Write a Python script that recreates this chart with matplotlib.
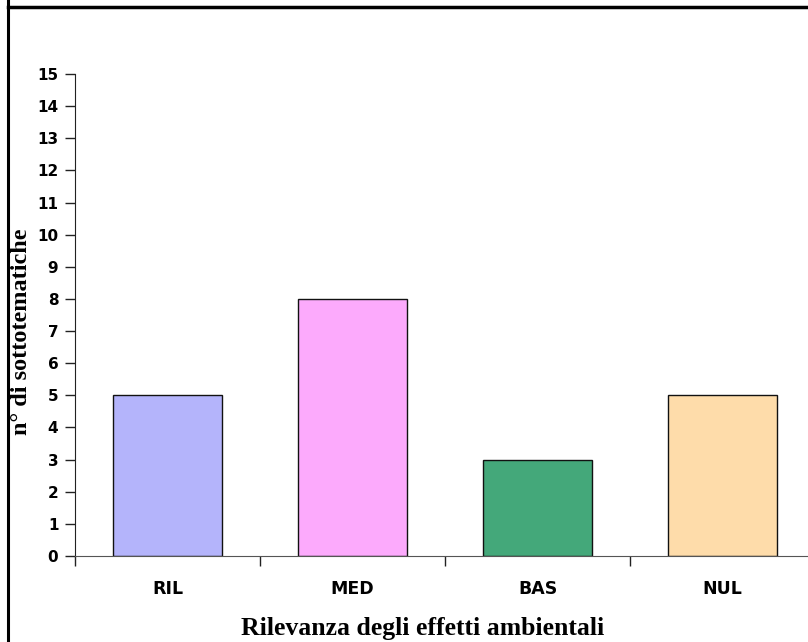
import matplotlib
matplotlib.use('Agg')
import matplotlib.pyplot as plt
from matplotlib.lines import Line2D

# numero di sottotematiche per classe di rilevanza
categorie = ['RIL', 'MED', 'BAS', 'NUL']
valori = [5, 8, 3, 5]
colori = ['#b4b4fb', '#fcaafc', '#44a87a', '#fedcaa']
yticks = list(range(0, 16))

fig = plt.figure(figsize=(8.08, 6.42), dpi=100)
ax = fig.add_axes([75/808, 86/642, 740/808, 482/642])

x = range(len(categorie))
ax.bar(x, valori, width=0.59, color=colori, edgecolor='#111111', linewidth=1.0)

ax.set_xlim(-0.5, len(categorie) - 0.5)
ax.set_ylim(0, 15)
ax.set_yticks(yticks)
ax.set_yticklabels([str(v) for v in yticks], fontfamily='DejaVu Sans',
                   fontweight='bold', fontsize=11)

# etichette delle categorie al centro, tacche tra le categorie
ax.set_xticks([i - 0.5 for i in range(len(categorie) + 1)])
ax.set_xticklabels([])
ax.set_xticks(list(x), minor=True)
ax.set_xticklabels(categorie, minor=True, fontfamily='DejaVu Sans',
                   fontweight='bold', fontsize=12.5)
ax.tick_params(axis='x', which='minor', length=0, pad=17)
ax.tick_params(axis='x', which='major', length=7, width=1, color='#222222', direction='out')
ax.tick_params(axis='y', length=7, width=1, color='#222222', direction='out', pad=5)

for s in ['top', 'right']:
    ax.spines[s].set_visible(False)
ax.spines['left'].set_color('#222222')
ax.spines['bottom'].set_color('#555555')

ax.set_ylabel('n° di sottotematiche', fontfamily='Liberation Serif',
              fontweight='bold', fontsize=17.5)
ax.yaxis.set_label_coords(-(75 - 32) / 740, (556 - 332) / 482)
fig.text(423/808, 1 - 628/642, 'Rilevanza degli effetti ambientali',
         ha='center', va='center', fontfamily='Liberation Serif',
         fontweight='bold', fontsize=18.5)

# cornice
fig.add_artist(Line2D([8/808, 8/808], [0, 1], color='black', linewidth=2.2,
                      transform=fig.transFigure))
fig.add_artist(Line2D([8/808, 1], [1 - 7/642, 1 - 7/642], color='black',
                      linewidth=2.5, transform=fig.transFigure))

fig.savefig('out.png', dpi=100)
